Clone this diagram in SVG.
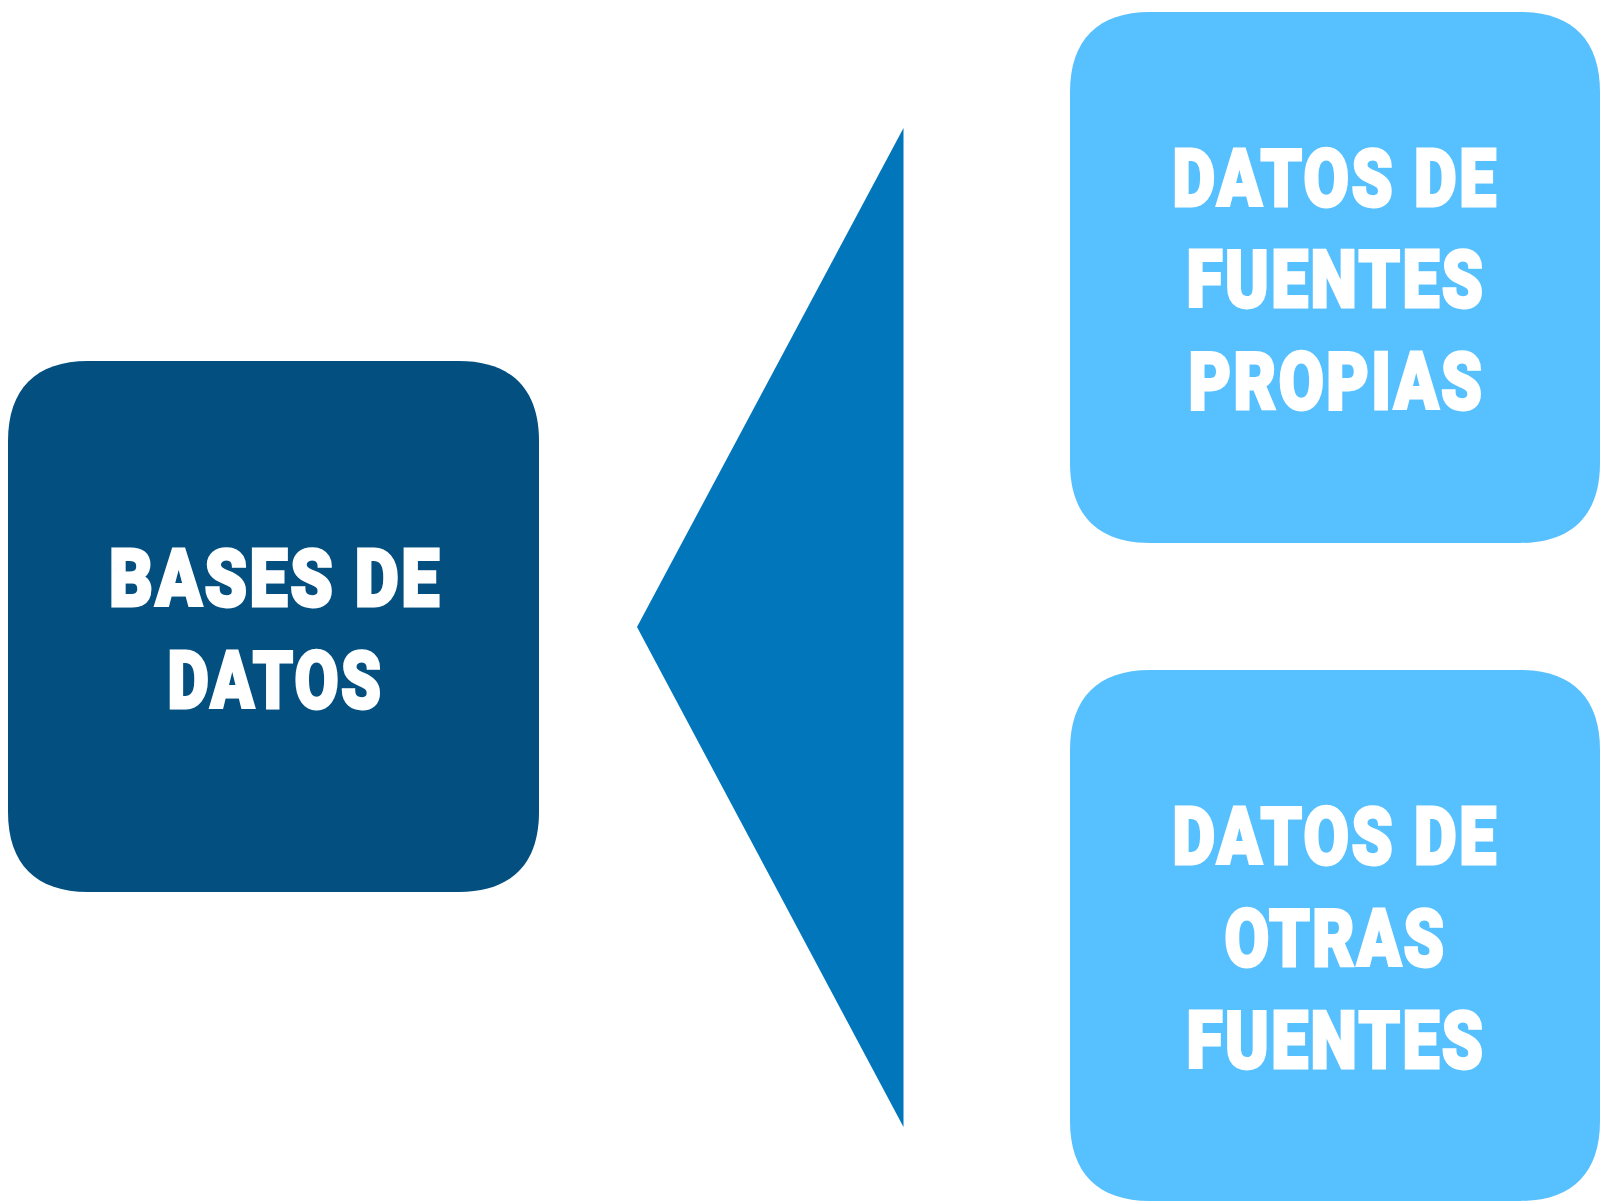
<svg xmlns="http://www.w3.org/2000/svg" width="1603" height="1203" viewBox="0 0 1603 1203">
<style>
.t{font-family:Roboto,"Liberation Sans",sans-serif;font-weight:900;font-size:80px;letter-spacing:3px;fill:#ffffff;stroke:#ffffff;stroke-width:3;stroke-linejoin:miter;text-anchor:middle}
.dark{fill:#024f80}
.light{fill:#57c0fe}
.arrow{fill:#0176bb}
</style>
<rect x="0" y="0" width="1603" height="1203" fill="#ffffff"/>
<g id="connectors">
<polygon class="arrow" points="637,627 903.5,128 903.5,1127"/>
</g>
<g id="node-bases">
<path class="dark" d="M88,361 H459 C511,361 539,389 539,441 V812 C539,864 511,892 459,892 H88 C36,892 8,864 8,812 V441 C8,389 36,361 88,361 Z"/>
<text class="t" x="275.5" y="606" textLength="333" lengthAdjust="spacingAndGlyphs">BASES DE</text>
<text class="t" x="275.5" y="707.5" textLength="216" lengthAdjust="spacingAndGlyphs">DATOS</text>
</g>
<g id="node-propias">
<path class="light" d="M1150,12 H1520 C1572,12 1600,40 1600,92 V463 C1600,515 1572,543 1520,543 H1150 C1098,543 1070,515 1070,463 V92 C1070,40 1098,12 1150,12 Z"/>
<text class="t" x="1335.5" y="205.5" textLength="326" lengthAdjust="spacingAndGlyphs">DATOS DE</text>
<text class="t" x="1336" y="307" textLength="299" lengthAdjust="spacingAndGlyphs">FUENTES</text>
<text class="t" x="1336.5" y="409" textLength="296" lengthAdjust="spacingAndGlyphs">PROPIAS</text>
</g>
<g id="node-otras">
<path class="light" d="M1150,670 H1520 C1572,670 1600,698 1600,750 V1121 C1600,1173 1572,1201 1520,1201 H1150 C1098,1201 1070,1173 1070,1121 V750 C1070,698 1098,670 1150,670 Z"/>
<text class="t" x="1335.5" y="864" textLength="326" lengthAdjust="spacingAndGlyphs">DATOS DE</text>
<text class="t" x="1335.5" y="966" textLength="222" lengthAdjust="spacingAndGlyphs">OTRAS</text>
<text class="t" x="1336" y="1067.5" textLength="299" lengthAdjust="spacingAndGlyphs">FUENTES</text>
</g>
</svg>
